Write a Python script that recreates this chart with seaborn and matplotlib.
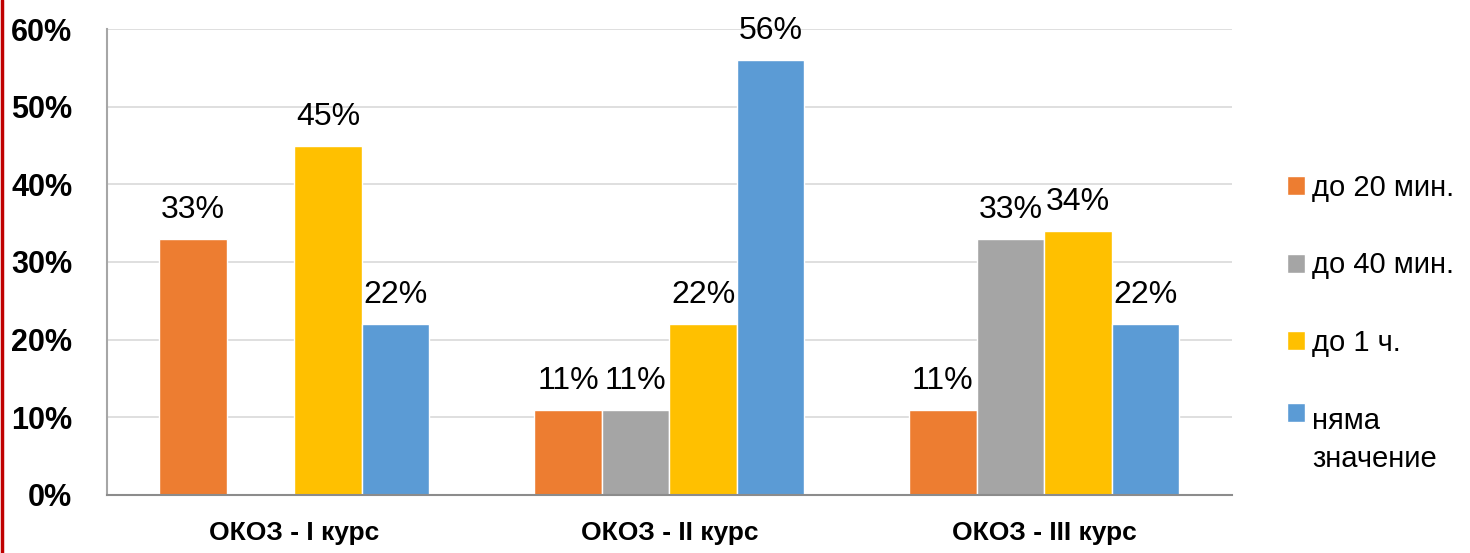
import matplotlib
matplotlib.use("Agg")
import matplotlib.pyplot as plt
from matplotlib.lines import Line2D
from matplotlib.ticker import PercentFormatter
import pandas as pd
import seaborn as sns

# data
groups = ["ОКОЗ - I курс", "ОКОЗ - II курс", "ОКОЗ - III курс"]
series = ["до 20 мин.", "до 40 мин.", "до 1 ч.", "няма\nзначение"]
colors = ["#ED7D31", "#A5A5A5", "#FFC000", "#5B9BD5"]
do_20 = [0.33, 0.11, 0.11]
do_40 = [0.00, 0.11, 0.33]
do_1h = [0.45, 0.22, 0.34]
nyama = [0.22, 0.56, 0.22]

rows = []
for name, vals in zip(series, [do_20, do_40, do_1h, nyama]):
    for g, v in zip(groups, vals):
        rows.append({"group": g, "series": name, "value": v})
df = pd.DataFrame(rows)

sns.set_style("white")
plt.rcParams["font.family"] = ["Liberation Sans", "DejaVu Sans"]
plt.rcParams["text.color"] = "black"
plt.rcParams["xtick.color"] = "black"
plt.rcParams["ytick.color"] = "black"

fig = plt.figure(figsize=(14.7, 5.53), dpi=100)
ax = fig.add_axes([0.0728, 0.105, 0.765, 0.8425])

sns.barplot(data=df, x="group", y="value", hue="series", hue_order=series,
            palette=colors, saturation=1, width=0.72, dodge=True, ax=ax)

for cont in ax.containers:
    labels = [f"{b.get_height() * 100:.0f}%" if b.get_height() > 0 else "" for b in cont]
    ax.bar_label(cont, labels=labels, padding=10, fontsize=23, color="black")

ax.set_ylim(0, 0.6)
ax.set_yticks([0, 0.1, 0.2, 0.3, 0.4, 0.5, 0.6])
ax.yaxis.set_major_formatter(PercentFormatter(1.0, decimals=0))
ax.grid(axis="y", color="#d9d9d9", linewidth=1.2)
ax.set_axisbelow(True)
ax.set_xlabel("")
ax.set_ylabel("")
ax.tick_params(axis="y", length=0, pad=25, labelsize=22)
ax.tick_params(axis="x", length=0, pad=19, labelsize=19)
for t in ax.get_yticklabels() + ax.get_xticklabels():
    t.set_fontweight("bold")

for side in ["top", "right"]:
    ax.spines[side].set_visible(False)
ax.spines["left"].set_color("#a6a6a6")
ax.spines["left"].set_linewidth(1.5)
ax.spines["bottom"].set_color("#8c8c8c")
ax.spines["bottom"].set_linewidth(1.5)

handles, labels = ax.get_legend_handles_labels()
ax.legend_.remove()
leg = fig.legend(handles, labels, loc="upper left", bbox_to_anchor=(0.8575, 0.733),
                 frameon=False, fontsize=21, handlelength=0.63, handleheight=0.63,
                 handletextpad=0.25, labelspacing=1.7)
leg.get_texts()[3].set_linespacing(1.45)
# square of the two-line entry sits next to its first line
last = leg.legend_handles[3]
last.set_y(last.get_y() + 20)

fig.add_artist(Line2D([0.0012, 0.0012], [0, 1], color="#c00000", linewidth=2.5))

fig.savefig("out.png", dpi=100)
